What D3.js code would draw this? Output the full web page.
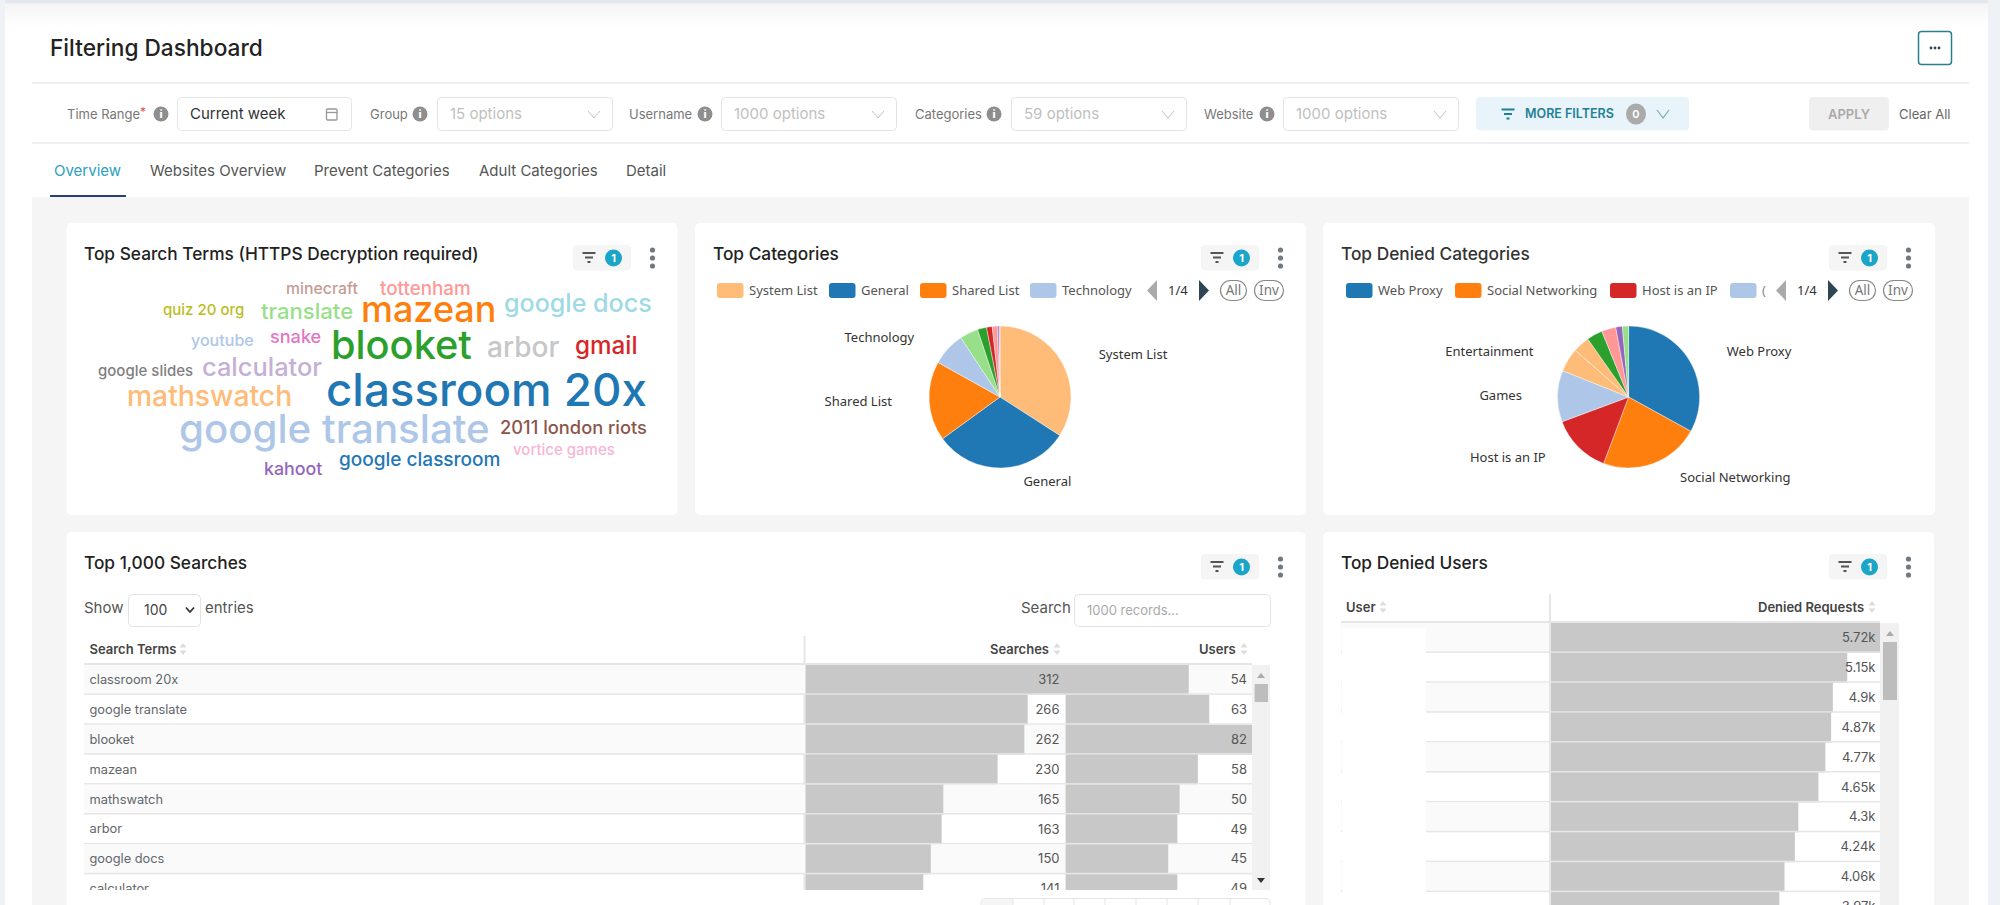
<!DOCTYPE html>
<html>
<head>
<meta charset="utf-8">
<title>Filtering Dashboard</title>
<script src="https://cdn.jsdelivr.net/npm/d3@7"></script>
<style>
html,body{margin:0;padding:0;background:#fff;overflow:hidden}
svg{display:block}
text{font-family:Inter,"Noto Sans",sans-serif}
</style>
</head>
<body>
<svg id="page" width="2000" height="905"></svg>
<script>
// word cloud data
const wordTerms = ["classroom 20x","google translate","blooket","mazean","mathswatch","arbor","google docs","calculator","translate","gmail","tottenham","google classroom","2011 london riots","snake","kahoot","minecraft","youtube","quiz 20 org","google slides","vortice games"]
const wordCounts = [312,266,262,230,165,163,138,141,113,131,85,87,81,79,77,60,62,53,53,53]
const wordColorIdx = [0,3,4,2,1,14,19,9,5,6,7,0,10,12,8,11,3,16,15,13]

// pie data (percent of requests)
const catNames = ["System List","General","Shared List","Technology","","","","","",""]
const catValues = [34.1,30.9,18.1,7.6,4.2,2.05,1.3,1.15,0.4,0.2]
const catColorIdx = [1,0,2,3,5,4,6,7,8,9]
const deniedCatNames = ["Web Proxy","Social Networking","Host is an IP","Games","Entertainment","","","","",""]
const deniedCatValues = [33,22.7,13.6,11.7,5.4,3.8,3.6,3.25,1.5,1.4]
const deniedCatColorIdx = [0,2,6,3,1,1,4,7,8,5]

// tables
const searchTerms = ["classroom 20x","google translate","blooket","mazean","mathswatch","arbor","google docs","calculator"]
const searchCounts = [312,266,262,230,165,163,150,141]
const searchUsers = [54,63,82,58,50,49,45,49]
const deniedRequests = [5720,5150,4900,4870,4770,4650,4300,4240,4060,3970]

// filter bar
const filterLabels = ["Group","Username","Categories","Website"]
const filterOptions = ["15 options","1000 options","59 options","1000 options"]
const tabNames = ["Overview","Websites Overview","Prevent Categories","Adult Categories","Detail"]

const tab20 = ["#1f77b4","#ffbb78","#ff7f0e","#aec7e8","#2ca02c","#98df8a","#d62728","#ff9896","#9467bd","#c5b0d5","#8c564b","#c49c94","#e377c2","#f7b6d2","#c7c7c7","#7f7f7f","#bcbd22","#dbdb8d","#17becf","#9edae5"]

const svg = d3.select("#page")

function label(g,x,y,str,size,color,opts){
    opts = opts || {}
    return g.append("text")
        .attr("x",x).attr("y",y)
        .attr("dy",opts.dy===undefined?"0.35em":opts.dy)
        .attr("font-size",size)
        .attr("fill",color)
        .attr("font-weight",opts.weight||400)
        .attr("text-anchor",opts.anchor||"start")
        .style("font-family",opts.font||null)
        .text(str)
}
function box(g,x,y,w,h,fill,stroke,r){
    return g.append("rect").attr("x",x).attr("y",y).attr("width",w).attr("height",h)
        .attr("rx",r||0).attr("fill",fill).attr("stroke",stroke||"none")
}
function infoIcon(g,cx,cy){
    g.append("circle").attr("cx",cx).attr("cy",cy).attr("r",7.5).attr("fill","#8e8e8e")
    label(g,cx,cy,"i",11,"#fff",{anchor:"middle",weight:800})
}
function chevron(g,cx,cy){
    g.append("path").attr("d",`M${cx-6},${cy-3.5}L${cx},${cy+3.5}L${cx+6},${cy-3.5}`)
        .attr("fill","none").attr("stroke","#c2c2c2").attr("stroke-width",1)
}
function filterIcon(g,cx,cy,color){
    [[6.5,-4.5],[4,0],[1.5,4.5]].forEach(d=>{
        g.append("rect").attr("x",cx-d[0]).attr("y",cy+d[1]-1).attr("width",d[0]*2).attr("height",2).attr("fill",color)
    })
}
function chip(g,x,y){
    box(g,x,y,58,25.5,"#f5f5f5",null,4)
    filterIcon(g,x+16,y+12.5,"#555")
    g.append("circle").attr("cx",x+40.5).attr("cy",y+13).attr("r",8.5).attr("fill","#1aa5c9")
    label(g,x+40.5,y+13,"1",11,"#fff",{anchor:"middle",weight:700})
    const ky = [-8,0,8]
    ky.forEach(d=>g.append("circle").attr("cx",x+79.5).attr("cy",y+13+d).attr("r",2.6).attr("fill","#6f7b80"))
}
function sortIcon(g,cx,cy){
    g.append("path").attr("d",`M${cx-3.5},${cy-1.5}L${cx},${cy-6}L${cx+3.5},${cy-1.5}Z`).attr("fill","#dcdcdc")
    g.append("path").attr("d",`M${cx-3.5},${cy+1.5}L${cx},${cy+6}L${cx+3.5},${cy+1.5}Z`).attr("fill","#dcdcdc")
}

// page background
const defs = svg.append("defs")
const grad = defs.append("linearGradient").attr("id","topFade").attr("x1",0).attr("x2",0).attr("y1",0).attr("y2",1)
grad.append("stop").attr("offset",0).attr("stop-color","#f4f4f4")
grad.append("stop").attr("offset",1).attr("stop-color","#fff")
box(svg,0,0,2000,905,"#fff")
box(svg,0,3,2000,24,"url(#topFade)")
box(svg,0,0,2000,3.5,"#e3e7ef")
box(svg,0,0,5,905,"#eef1f6")
box(svg,1988,0,12,905,"#eef1f6")
box(svg,32,197,1937,708,"#f5f5f5")

// header
label(svg,50,48,"Filtering Dashboard",22.7,"#222",{weight:500})
box(svg,1918.5,31.5,33,33,"#fff","#2b7d90",3).attr("stroke-width",1.5)
;[-4,0,4].forEach(d=>svg.append("circle").attr("cx",1935+d).attr("cy",48).attr("r",1.4).attr("fill","#2f4554"))
box(svg,32,82,1937,2,"#efefef")
box(svg,32,142,1937,2,"#efefef")

// filter row
label(svg,67,114,"Time Range",13,"#777")
label(svg,140,112,"*",12,"#d9534f")
infoIcon(svg,161,114)
box(svg,177.5,97.5,174,33,"#fff","#e6e6e6",4)
label(svg,190,114,"Current week",15,"#333")
const cal = svg.append("g")
box(cal,326.5,109,10.5,11,"none","#999",1).attr("stroke-width",1.3)
cal.append("line").attr("x1",326).attr("x2",337.5).attr("y1",112.5).attr("y2",112.5).attr("stroke","#999").attr("stroke-width",1.3)

const filterX = [370,629,915,1204]
const filterIconX = [420,705,994,1267]
const selectX = [437,721,1011,1283]
filterLabels.forEach((d,i)=>{
    label(svg,filterX[i],114,d,13,"#777")
    infoIcon(svg,filterIconX[i],114)
    box(svg,selectX[i]+0.5,97.5,175,33,"#fff","#e3e3e3",4)
    label(svg,selectX[i]+13,114,filterOptions[i],15,"#c0c0c0")
    chevron(svg,selectX[i]+157,114.5)
})
box(svg,1476,97,213,33.5,"#e8f4f9",null,4)
filterIcon(svg,1508,114,"#1f7f96")
label(svg,1525,114,"MORE FILTERS",12.5,"#1f7f96",{weight:600})
svg.append("ellipse").attr("cx",1636).attr("cy",114).attr("rx",10).attr("ry",10.5).attr("fill","#aaa")
label(svg,1636,114,"0",11,"#fff",{anchor:"middle",weight:600})
svg.append("path").attr("d","M1657,110L1663,118L1669,110").attr("fill","none").attr("stroke","#7fa9b5").attr("stroke-width",1.2)
box(svg,1809,97,80,33.5,"#efefef",null,4)
label(svg,1849,114,"APPLY",13,"#aaa",{anchor:"middle",weight:600})
label(svg,1899,114,"Clear All",13,"#666")

// tabs
const tabX = [54,150,314,479,626]
tabNames.forEach((d,i)=>{
    label(svg,tabX[i],171,d,15,i===0?"#2a9fc0":"#555")
})
box(svg,50,195,76,2,"#2c3e7a")

// cards
const cardData = [[66.5,223,611,292],[695,223,611,292],[1323,223,612,292],[66.5,532,1239,380],[1323,532,611,380]]
cardData.forEach(d=>box(svg,d[0],d[1],d[2],d[3],"#fff",null,5))
label(svg,84,254,"Top Search Terms (HTTPS Decryption required)",17.3,"#222",{weight:500})
label(svg,713,254,"Top Categories",17.3,"#222",{weight:500})
label(svg,1341,254,"Top Denied Categories",17.3,"#333",{weight:500})
label(svg,84,563,"Top 1,000 Searches",17.3,"#222",{weight:500})
label(svg,1341,563,"Top Denied Users",17.3,"#222",{weight:500})
chip(svg,573,245)
chip(svg,1201,245)
chip(svg,1829,245)
chip(svg,1201,554)
chip(svg,1829,554)

// word cloud: font size follows the count, the placement is hand fitted (left, baseline)
const wordSize = d3.scaleLinear().domain([53,312]).range([15,45.7])
const cloudSpots = [[326,406],[179,443],[331,359],[361,322],[127,406],[487,357],[504,312],[202,376],[261,319],[575,354],[380,295],[339,466],[500,434],[270,343],[264,475],[286,294],[191,346],[163,315],[98,376],[513,455]]
svg.append("g").selectAll("text").data(wordTerms).join("text")
    .attr("x",(d,i)=>cloudSpots[i][0])
    .attr("y",(d,i)=>cloudSpots[i][1])
    .attr("font-size",(d,i)=>wordSize(wordCounts[i]))
    .attr("font-weight",500)
    .attr("fill",(d,i)=>tab20[wordColorIdx[i]])
    .text(d=>d)

// pies
function drawPie(cx,cy,names,values,colorIdx,labelNudge){
    const pie = d3.pie().sort(null).value(d=>d)
    const arc = d3.arc().innerRadius(0).outerRadius(71)
    const g = svg.append("g").attr("transform",`translate(${cx},${cy})`)
    const arcs = pie(values)
    g.selectAll("path").data(arcs).join("path")
        .attr("d",arc)
        .attr("fill",(d,i)=>tab20[colorIdx[i]])
        .attr("stroke","#fff").attr("stroke-width",0.4)
    arcs.forEach((d,i)=>{
        if(!names[i]) return
        const mid = (d.startAngle+d.endAngle)/2
        const nudge = labelNudge[i]||[0,0]
        label(g,155*Math.sin(mid)+nudge[0],-87*Math.cos(mid)+nudge[1],names[i],13,"#333",{anchor:"middle",font:"'Noto Sans'"})
    })
}
drawPie(1000,397,catNames,catValues,catColorIdx,[[-3,-1],[43,-2.5],[13,-1],[-7,0]])
drawPie(1628.6,397,deniedCatNames,deniedCatValues,deniedCatColorIdx,[[-3,-1],[53,-1.5],[-11,-1],[27,-1],[-7,0]])

// legends
function drawLegend(items,itemX,pagerX){
    const g = svg.append("g")
    items.forEach((d,i)=>{
        box(g,itemX[i],283,26.5,15,tab20[d.c],null,3)
        if(d.name) label(g,itemX[i]+32,290,d.name,13,"#555",{font:"'Noto Sans'"})
    })
    g.append("path").attr("d",`M${pagerX+10},280L${pagerX},290.5L${pagerX+10},301Z`).attr("fill","#aaa")
    label(g,pagerX+21,290,"1/4",13,"#333",{font:"'Noto Sans'"})
    g.append("path").attr("d",`M${pagerX+52},280L${pagerX+62},290.5L${pagerX+52},301Z`).attr("fill","#2f4554")
    box(g,pagerX+73.5,280.5,26,20,"none","#888",10).attr("stroke-width",1.2)
    label(g,pagerX+86.5,290,"All",13.5,"#777",{anchor:"middle",font:"'Noto Sans'"})
    box(g,pagerX+107.5,280.5,29,20,"none","#888",10).attr("stroke-width",1.2)
    label(g,pagerX+122,290,"Inv",13.5,"#777",{anchor:"middle",font:"'Noto Sans'"})
}
drawLegend([{name:"System List",c:1},{name:"General",c:0},{name:"Shared List",c:2},{name:"Technology",c:3}],[717,829,920,1030],1147)
drawLegend([{name:"Web Proxy",c:0},{name:"Social Networking",c:2},{name:"Host is an IP",c:6},{name:"",c:3}],[1346,1455,1610,1730],1776)
label(svg,1762,290,"(",13,"#888",{font:"'Noto Sans'"})

// search table
label(svg,84,608,"Show",15,"#555")
box(svg,128.5,594.5,72,32,"#fff","#e3e3e3",4)
label(svg,144,610,"100",14,"#444")
svg.append("path").attr("d","M186,607.5L190,612L194,607.5").attr("fill","none").attr("stroke","#333").attr("stroke-width",1.8)
label(svg,205,608,"entries",15,"#555")
label(svg,1021,608,"Search",15,"#555")
box(svg,1074.5,594.5,196,32,"#fff","#e3e3e3",4)
label(svg,1087,610,"1000 records...",13,"#aaa")

label(svg,89.5,649,"Search Terms",13,"#444",{weight:600})
sortIcon(svg,183,649)
label(svg,990,649,"Searches",13,"#444",{weight:600})
sortIcon(svg,1057,649)
label(svg,1199,649,"Users",13,"#444",{weight:600})
sortIcon(svg,1244,649)
box(svg,84,663,1168,2,"#e6e6e6")
box(svg,803.5,636,2,254,"#e6e6e6")

const rowH = 29.9
const searchRow = d3.scaleBand().domain(d3.range(searchTerms.length)).range([665,665+rowH*8])
const searchX = d3.scaleLinear().domain([0,312]).range([0,260.6])
const userX = d3.scaleLinear().domain([0,82]).range([0,187])
defs.append("clipPath").attr("id","searchClip").append("rect").attr("x",84).attr("y",665).attr("width",1168).attr("height",225)
const rows = svg.append("g").attr("clip-path","url(#searchClip)")
searchTerms.forEach((d,i)=>{
    const y = searchRow(i), h = searchRow.bandwidth()
    if(i%2===0) box(rows,84,y,1168,h,"#fafafa")
    box(rows,805.5,y,searchX(searchCounts[i]),h,"#c8c8c8")
    box(rows,1065.6,y,userX(searchUsers[i]),h,"#c8c8c8")
    box(rows,84,y+h-1.5,1168,1.5,"#e6e6e6")
    label(rows,89.5,y+14.5,d,12.8,"#62666c")
    label(rows,1059.5,y+14.5,searchCounts[i],13,"#555",{anchor:"end"})
    label(rows,1247,y+14.5,searchUsers[i],13,"#555",{anchor:"end"})
})
box(svg,1252,665,18,225,"#f1f1f1")
box(svg,1254.6,684,13.4,18,"#bdbdbd")
svg.append("path").attr("d","M1257,678L1261,673L1265,678Z").attr("fill","#aaa")
svg.append("path").attr("d","M1257,878L1261,883L1265,878Z").attr("fill","#333")
// pager peeks in at the bottom
box(svg,981,898.5,289,20,"#fff","#e5e5e5",4)
box(svg,982,899,31,6,"#f5f5f5")
const pagerLines = [1013,1044,1074,1105,1136,1167,1198,1230]
pagerLines.forEach(d=>svg.append("line").attr("x1",d).attr("x2",d).attr("y1",899).attr("y2",905).attr("stroke","#e5e5e5"))

// denied users table
label(svg,1346,607,"User",13,"#444",{weight:600})
sortIcon(svg,1383,607)
label(svg,1758,607,"Denied Requests",13,"#444",{weight:600})
sortIcon(svg,1872,607)
box(svg,1341,621,539,2,"#e6e6e6")
box(svg,1549,594,2,311,"#e6e6e6")
const deniedRow = d3.scaleBand().domain(d3.range(deniedRequests.length)).range([623,623+rowH*10])
const deniedX = d3.scaleLinear().domain([0,5720]).range([0,329])
const fmtK = d3.format(".3~s")
defs.append("clipPath").attr("id","deniedClip").append("rect").attr("x",1341).attr("y",623).attr("width",539).attr("height",282)
const drows = svg.append("g").attr("clip-path","url(#deniedClip)")
deniedRequests.forEach((d,i)=>{
    const y = deniedRow(i), h = deniedRow.bandwidth()
    if(i%2===0) box(drows,1341,y,208,h,"#fafafa")
    box(drows,1341,y+h-1.5,208,1.5,"#e6e6e6")
    box(drows,1551,y,deniedX(d),h,"#c8c8c8")
    box(drows,1551,y+h-1.5,329,1.5,"#e6e6e6")
    label(drows,1875.5,y+14.5,fmtK(d),13,"#555",{anchor:"end"})
})
// user names are blanked out in the reference
box(svg,1342,628,84,277,"#fff")
box(svg,1880,623,19,282,"#f1f1f1")
box(svg,1883,642,14,58,"#bdbdbd")
svg.append("path").attr("d","M1886,636L1890,631L1894,636Z").attr("fill","#aaa")
</script>
</body>
</html>
